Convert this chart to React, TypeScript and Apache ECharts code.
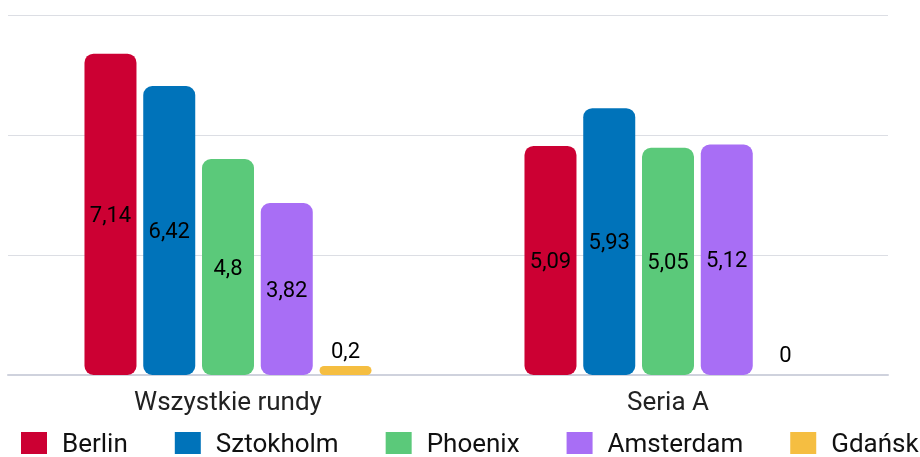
import React, { useEffect, useRef } from "react";
import * as echarts from "echarts";

const categories = ["Wszystkie rundy", "Seria A"];
const seriesNames = ["Berlin", "Sztokholm", "Phoenix", "Amsterdam", "Gdańsk"];
const berlin = [7.14, 5.09];
const sztokholm = [6.42, 5.93];
const phoenix = [4.8, 5.05];
const amsterdam = [3.82, 5.12];
const gdansk = [0.2, 0];
const colors = ["#CC0033", "#0073BA", "#5BC97A", "#A86EF5", "#F5BE41"];

export default function App() {
  const ref = useRef<HTMLDivElement>(null);
  useEffect(() => {
    if (!ref.current) return;
    const chart = echarts.init(ref.current, undefined, { renderer: "svg" });
    const allData = [berlin, sztokholm, phoenix, amsterdam, gdansk];
    const fmt = (p: any) => String(p.value).replace(".", ",");
    const series = allData.map((d, i) => ({
      name: seriesNames[i],
      type: "bar",
      barWidth: 52,
      barGap: "13%",
      itemStyle: { color: colors[i], borderRadius: 9 },
      label: {
        show: true,
        position: i === 4 ? "top" : "inside",
        distance: 5,
        color: "#000",
        fontSize: 22,
        fontFamily: "Roboto",
        formatter: fmt,
      },
      data: d.map((v) => (i === 4 && v === 0 ? { value: v, label: { distance: 10 } } : v)),
    }));
    chart.setOption({
      animation: false,
      color: colors,
      textStyle: { fontFamily: "Roboto" },
      grid: { left: 8, right: 32, top: 15, bottom: 82, containLabel: false },
      xAxis: {
        type: "category",
        data: categories,
        axisLine: { show: true, lineStyle: { color: "#cfd2dd", width: 2 } },
        axisTick: { show: false },
        axisLabel: { color: "#222", fontSize: 26, fontFamily: "Roboto", margin: 13 },
      },
      yAxis: {
        type: "value",
        min: 0,
        max: 8,
        interval: 8 / 3,
        axisLabel: { show: false },
        axisLine: { show: false },
        axisTick: { show: false },
        splitLine: { lineStyle: { color: "#dcdee4", width: 1 } },
      },
      legend: {
        bottom: -4,
        left: 16,
        width: 920,
        itemWidth: 26,
        itemHeight: 22,
        itemGap: 47,
        icon: "rect",
        textStyle: { color: "#111", fontSize: 26, fontFamily: "Roboto", padding: [0, 0, 0, 10] },
        data: seriesNames,
      },
      series,
    });
    return () => chart.dispose();
  }, []);
  return <div ref={ref} style={{ position: "fixed", left: 0, top: 0, width: 920, height: 457 }} />;
}
